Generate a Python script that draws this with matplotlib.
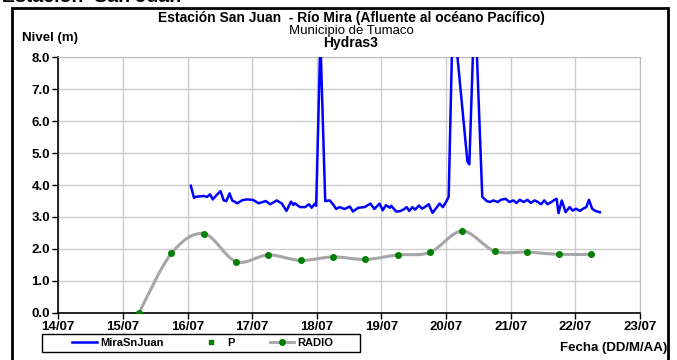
import numpy as np
import matplotlib
matplotlib.use('Agg')
import matplotlib.pyplot as plt
from matplotlib.path import Path
from matplotlib.patches import PathPatch, Rectangle

plt.rcParams['font.family'] = ['Liberation Sans', 'DejaVu Sans']

# ── Datos ────────────────────────────────────────────────────────────────────
# tiempo en días contados desde 14/07 00:00
dias_etiquetas = ['14/07', '15/07', '16/07', '17/07', '18/07',
                  '19/07', '20/07', '21/07', '22/07', '23/07']

# MiraSnJuan (nivel, m)
mira_t = [2.05, 2.10, 2.12, 2.25, 2.30, 2.35, 2.39, 2.46, 2.51, 2.56, 2.60, 2.65,
          2.69, 2.77, 2.85, 2.92, 3.01, 3.10, 3.21, 3.28, 3.38, 3.46, 3.53, 3.60,
          3.64, 3.66, 3.74, 3.82, 3.88, 3.92, 3.97, 3.99, 4.055, 4.13, 4.14, 4.20,
          4.25, 4.30, 4.35, 4.43, 4.51, 4.56, 4.64, 4.74, 4.83, 4.89, 4.97, 5.02,
          5.07, 5.13, 5.15, 5.23, 5.28, 5.34, 5.39, 5.43, 5.48, 5.52, 5.58, 5.63,
          5.67, 5.73, 5.79, 5.84, 5.90, 5.95, 6.00, 6.04, 6.10, 6.13, 6.33, 6.36,
          6.43, 6.46, 6.56, 6.63, 6.68, 6.73, 6.80, 6.85, 6.92, 6.98, 7.04, 7.09,
          7.14, 7.20, 7.26, 7.31, 7.37, 7.42, 7.47, 7.52, 7.57, 7.63, 7.68, 7.71,
          7.74, 7.79, 7.85, 7.91, 7.96, 8.01, 8.07, 8.12, 8.17, 8.21, 8.26, 8.31,
          8.38]
mira_v = [3.98, 3.60, 3.63, 3.66, 3.63, 3.71, 3.55, 3.71, 3.81, 3.52, 3.50, 3.74,
          3.52, 3.43, 3.53, 3.55, 3.54, 3.43, 3.50, 3.40, 3.52, 3.42, 3.19, 3.48,
          3.38, 3.43, 3.31, 3.31, 3.40, 3.29, 3.42, 3.35, 8.60, 3.50, 3.50, 3.52,
          3.40, 3.25, 3.31, 3.25, 3.33, 3.17, 3.29, 3.31, 3.42, 3.25, 3.42, 3.21,
          3.37, 3.29, 3.35, 3.17, 3.18, 3.23, 3.31, 3.19, 3.31, 3.23, 3.36, 3.26,
          3.31, 3.40, 3.13, 3.26, 3.42, 3.31, 3.47, 3.63, 9.00, 9.00, 4.74, 4.65,
          9.00, 9.00, 3.63, 3.50, 3.47, 3.52, 3.47, 3.54, 3.57, 3.47, 3.52, 3.44,
          3.54, 3.47, 3.54, 3.44, 3.52, 3.47, 3.40, 3.52, 3.40, 3.47, 3.54, 3.57,
          3.12, 3.52, 3.15, 3.31, 3.20, 3.26, 3.19, 3.26, 3.31, 3.54, 3.26, 3.19,
          3.15]

# RADIO (nivel, m) cada 12 horas
radio_t = [1.25, 1.75, 2.25, 2.75, 3.25, 3.75, 4.25, 4.75,
           5.25, 5.75, 6.25, 6.75, 7.25, 7.75, 8.25]
radio_v = [0.00, 1.86, 2.48, 1.60, 1.81, 1.64, 1.75, 1.67,
           1.81, 1.89, 2.56, 1.93, 1.90, 1.83, 1.83]

# P (sin datos en el periodo)
p_t = []
p_v = []


def curva_suave(x, y, k=1.0 / 6):
    # línea suavizada tipo Excel (Bezier cúbica por tramos)
    pts = np.column_stack([x, y])
    ext = np.vstack([pts[0], pts, pts[-1]])
    verts = [tuple(pts[0])]
    codes = [Path.MOVETO]
    for i in range(1, len(ext) - 2):
        p0, p1, p2, p3 = ext[i - 1], ext[i], ext[i + 1], ext[i + 2]
        c1 = p1 + k * (p2 - p0)
        c2 = p2 - k * (p3 - p1)
        verts += [tuple(c1), tuple(c2), tuple(p2)]
        codes += [Path.CURVE4] * 3
    return Path(verts, codes)


# ── Figura ───────────────────────────────────────────────────────────────────
fig = plt.figure(figsize=(6.77, 3.60), dpi=100)
ax = fig.add_axes([0.0861, 0.1314, 0.9453 - 0.0861, 0.8403 - 0.1314])

azul = '#0000ff'
gris = '#a6a6a6'
verde = '#008000'

ax.plot(mira_t, mira_v, color=azul, lw=1.8, label='MiraSnJuan', zorder=3)
ax.plot(p_t, p_v, 's', color=verde, ms=2.5, label='P')
ax.add_patch(PathPatch(curva_suave(radio_t, radio_v), facecolor='none',
                       edgecolor=gris, lw=2.2, zorder=2))
ax.plot(radio_t, radio_v, 'o', color=verde, ms=4, zorder=4)
# entrada de leyenda para RADIO (línea + punto)
ax.plot([], [], '-o', color=gris, mfc=verde, mec=verde, ms=4, lw=2, label='RADIO')

ax.set_xlim(0, 9)
ax.set_ylim(0, 8)
ax.set_xticks(range(len(dias_etiquetas)))
ax.set_xticklabels(dias_etiquetas)
ax.set_yticks(np.arange(0, 9, 1))
ax.set_yticklabels([f'{v:.1f}' for v in np.arange(0, 9, 1)])
ax.tick_params(direction='out', length=4, width=1, labelsize=9.5, pad=2)
for lab in ax.get_xticklabels() + ax.get_yticklabels():
    lab.set_fontweight('bold')

ax.grid(True, color='#cccccc', lw=1)
ax.set_axisbelow(True)
for s in ['top', 'right']:
    ax.spines[s].set_color('#bbbbbb')
for s in ['left', 'bottom']:
    ax.spines[s].set_color('black')
    ax.spines[s].set_linewidth(1.2)

# títulos
fig.text(351 / 677, 1 - 18 / 360, 'Estación San Juan  - Río Mira (Afluente al océano Pacífico)',
         ha='center', va='center', fontsize=10, fontweight='bold')
fig.text(351 / 677, 1 - 31 / 360, 'Municipio de Tumaco', ha='center', va='center', fontsize=9.5)
fig.text(351 / 677, 1 - 43 / 360, 'Hydras3', ha='center', va='center', fontsize=10, fontweight='bold')
fig.text(22 / 677, 1 - 38 / 360, 'Nivel (m)', ha='left', va='center', fontsize=9.5, fontweight='bold')
fig.text(667 / 677, 1 - 348 / 360, 'Fecha (DD/M/AA)', ha='right', va='center',
         fontsize=9.5, fontweight='bold')

# texto cortado en la parte superior (solo se ve el borde inferior)
fig.text(2 / 677, 1 - 2.5 / 360, 'Estación  San Juan', ha='left', va='baseline',
         fontsize=14, fontweight='bold')

# leyenda con marco propio
fig.patches.append(Rectangle((42 / 677, 1 - 352 / 360), (360 - 42) / 677, 18 / 360,
                             transform=fig.transFigure, fill=False,
                             edgecolor='black', lw=1))
leg = fig.legend(loc='center', bbox_to_anchor=(203 / 677, 1 - 343 / 360), ncol=3,
                 frameon=False, fontsize=8, handlelength=2.2,
                 handletextpad=0.3, columnspacing=3.2, borderpad=0.2)
for t in leg.get_texts():
    t.set_fontweight('bold')

# marco exterior
fig.patches.append(Rectangle((12 / 677, -0.1), (668 - 12) / 677, 1.1 - 8 / 360,
                             transform=fig.transFigure, fill=False,
                             edgecolor='black', lw=2))

fig.savefig('out.png', dpi=100)
